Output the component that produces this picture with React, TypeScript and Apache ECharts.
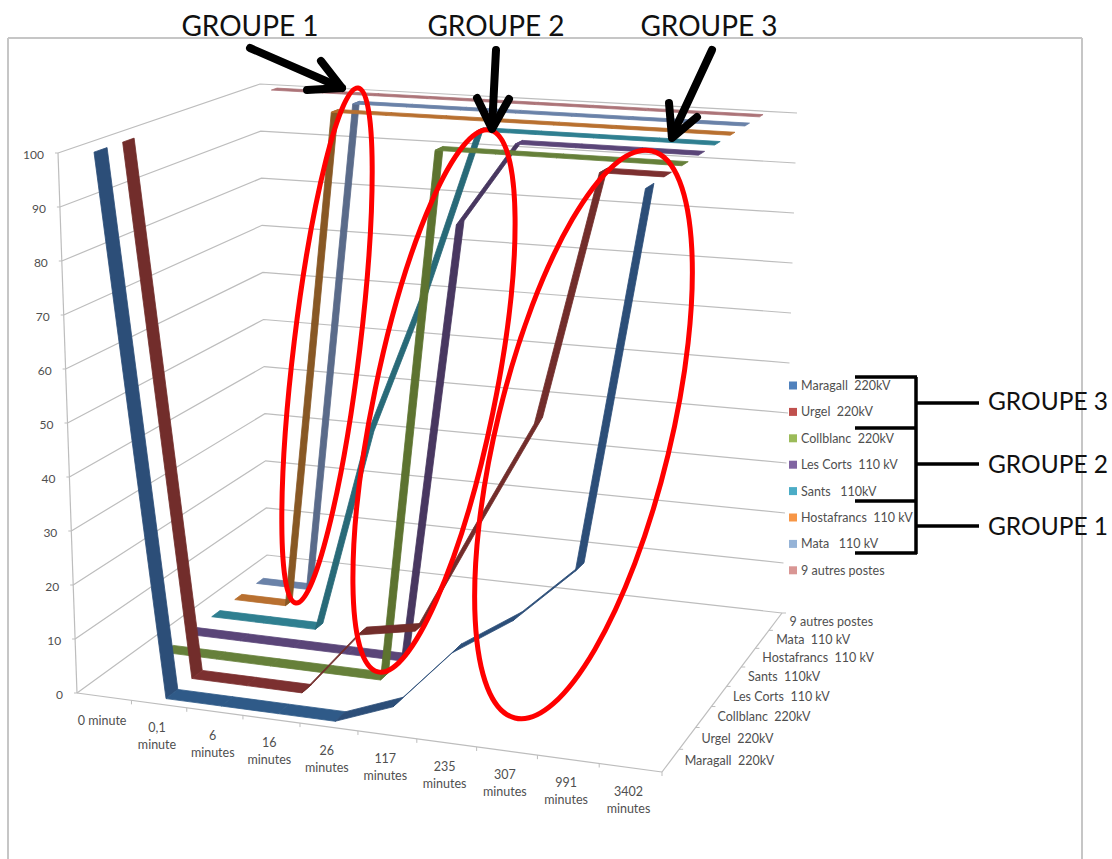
import React, { useEffect, useRef } from "react";
import * as echarts from "echarts";

const minuteLabels = ["0 minute", "0,1\nminute", "6\nminutes", "16\nminutes", "26\nminutes", "117\nminutes", "235\nminutes", "307\nminutes", "991\nminutes", "3402\nminutes"];
const valueTicks = [0, 10, 20, 30, 40, 50, 60, 70, 80, 90, 100];

const legendNames = ["Maragall  220kV", "Urgel  220kV", "Collblanc  220kV", "Les Corts  110 kV", "Sants   110kV", "Hostafrancs  110 kV", "Mata   110 kV", "9 autres postes"];
const depthNames = ["Maragall  220kV", "Urgel  220kV", "Collblanc  220kV", "Les Corts  110 kV", "Sants  110kV", "Hostafrancs  110 kV", "Mata  110 kV", "9 autres postes"];

const maragall = [100, 0, 0, 0, 0, 4, 15, 22, 32, 100];
const urgel = [100, 0, 0, 0, 12, 14, 34, 54, 100, 100];
const collblanc = [0, 0, 0, 0, 0, 100, 100, 100, 100, 100];
const lesCorts = [0, 0, 0, 0, 0, 84, 100, 100, 100, 100];
const sants = [0, 0, 0, 39, 67, 100, 100, 100, 100, 100];
const hostafrancs = [0, 0, 100, 100, 100, 100, 100, 100, 100, 100];
const mata = [0, 0, 100, 100, 100, 100, 100, 100, 100, 100];
const autres = [100, 100, 100, 100, 100, 100, 100, 100, 100, 100];
const seriesValues = [maragall, urgel, collblanc, lesCorts, sants, hostafrancs, mata, autres];

const legendColors = ["#4F81BD", "#C0504D", "#9BBB59", "#8064A2", "#4BACC6", "#F79646", "#95B3D7", "#D99694"];
const flatColors = ["#2F5A88", "#7C3030", "#66803A", "#5A4578", "#2F7F90", "#B87030", "#6A82A8", "#AC7478"];
const steepColors = ["#2C4E78", "#722D2B", "#5D7330", "#483760", "#286A78", "#885824", "#5A6B8A", "#AC7478"];
const ribbonDepth = [0.46, 0.42, 0.38, 0.38, 0.36, 0.32, 0.32, 0.26];

const FONT = "Lato, 'Open Sans', sans-serif";
const TEXT = "#4f4f4f";
const GRID = "#bdbdbd";

type P = [number, number];
const floorQuad: P[] = [[77, 693], [662, 772], [782, 613], [267, 555]];
const topQuad: P[] = [[58, 153], [674, 194], [797, 113], [260, 84]];

function quadMap(q: P[]) {
  const [[x0, y0], [x1, y1], [x2, y2], [x3, y3]] = q;
  const dx1 = x1 - x2, dx2 = x3 - x2, sx = x0 - x1 + x2 - x3;
  const dy1 = y1 - y2, dy2 = y3 - y2, sy = y0 - y1 + y2 - y3;
  const den = dx1 * dy2 - dx2 * dy1;
  const g = (sx * dy2 - dx2 * sy) / den;
  const h = (dx1 * sy - sx * dy1) / den;
  const a = x1 - x0 + g * x1, b = x3 - x0 + h * x3;
  const d = y1 - y0 + g * y1, e = y3 - y0 + h * y3;
  return (u: number, v: number): P => {
    const w = g * u + h * v + 1;
    return [(a * u + b * v + x0) / w, (d * u + e * v + y0) / w];
  };
}
const floorMap = quadMap(floorQuad);
const topMap = quadMap(topQuad);
function project(u: number, v: number, h: number): P {
  const f = floorMap(u, v), t = topMap(u, v);
  return [f[0] + (t[0] - f[0]) * h, f[1] + (t[1] - f[1]) * h];
}

const GRID_BOX = { left: 100, top: 100, width: 800, height: 500 };
const toUH = (p: number[]) => [
  (p[0] - GRID_BOX.left) / GRID_BOX.width,
  (GRID_BOX.top + GRID_BOX.height - p[1]) / GRID_BOX.height,
];

const ellipses = [
  { top: [358, 88], bottom: [296, 603], minor: 33 },
  { top: [490, 130], bottom: [378, 672], minor: 60 },
  { top: [652, 151], bottom: [515, 718], minor: 87 },
];
const arrows = [
  { shaft: [[250, 48], [342, 88]], barbs: [[307, 90], [342, 88], [321, 61]] },
  { shaft: [[496, 50], [492, 128]], barbs: [[477, 98], [492, 129], [509, 99]] },
  { shaft: [[712, 50], [672, 136]], barbs: [[669, 103], [672, 138], [697, 117]] },
];
const brackets = [
  [[855, 377], [917, 377]], [[855, 428], [917, 428]], [[855, 501], [917, 501]], [[855, 553], [917, 553]],
  [[916, 377], [916, 554]], [[917, 403], [979, 403]], [[917, 464], [979, 464]], [[917, 526], [979, 526]],
];
const groupTitles = [
  { text: "GROUPE 1", x: 250, y: 25, size: 28 }, { text: "GROUPE 2", x: 496, y: 25, size: 28 }, { text: "GROUPE 3", x: 709, y: 25, size: 28 },
  { text: "GROUPE 3", x: 1048, y: 400, size: 24.5 }, { text: "GROUPE 2", x: 1048, y: 463, size: 24.5 }, { text: "GROUPE 1", x: 1048, y: 525, size: 24.5 },
];

function buildOption() {
  const ribbonSeries = seriesValues.map((vals, s) => ({ vals, s })).reverse().map(({ vals, s }) => ({
    type: "custom",
    name: legendNames[s],
    coordinateSystem: "cartesian2d",
    clip: false,
    z: 3,
    itemStyle: { color: legendColors[s] },
    encode: { x: 0, y: 1 },
    data: vals.map((v, i) => [i, v]),
    renderItem: (params: any, api: any) => {
      const i = params.dataIndex;
      if (i >= vals.length - 1) return null;
      const [u0, h0] = toUH(api.coord([i, vals[i]]));
      const [u1, h1] = toUH(api.coord([i + 1, vals[i + 1]]));
      const v = (s + 0.5) / seriesValues.length;
      const d = ribbonDepth[s] / seriesValues.length / 2;
      const color = vals[i] === vals[i + 1] ? flatColors[s] : steepColors[s];
      return {
        type: "polygon",
        shape: { points: [project(u0, v - d, h0), project(u0, v + d, h0), project(u1, v + d, h1), project(u1, v - d, h1)] },
        style: { fill: color, stroke: color, lineWidth: 0.8 },
      };
    },
  }));

  const wallSeries = {
    type: "custom",
    coordinateSystem: "cartesian2d",
    clip: false,
    z: 1,
    encode: { x: 0, y: 1 },
    data: valueTicks.map((t) => [0, t]),
    renderItem: (params: any, api: any) => {
      const t = valueTicks[params.dataIndex];
      const [, h] = toUH(api.coord([0, t]));
      const a = project(0, 0, h), b = project(0, 1, h), c = project(1, 1, h);
      return {
        type: "group",
        children: [
          { type: "polyline", shape: { points: [a, b, c] }, style: { stroke: GRID, lineWidth: 1.2, fill: "none" } },
          { type: "line", shape: { x1: a[0] - 3, y1: a[1], x2: a[0], y2: a[1] }, style: { stroke: GRID, lineWidth: 1 } },
          { type: "text", style: { x: a[0] - 14, y: a[1] + 1, text: String(t), fill: TEXT, font: `12px ${FONT}`, align: "right", verticalAlign: "middle" } },
        ],
      };
    },
  };

  const categorySeries = {
    type: "custom",
    coordinateSystem: "cartesian2d",
    clip: false,
    z: 1,
    encode: { x: 0, y: 1 },
    data: minuteLabels.map((_, i) => [i, 0]),
    renderItem: (params: any, api: any) => {
      const i = params.dataIndex;
      const [u] = toUH(api.coord([i, 0]));
      const edge = project(u + 0.05, 0, 0);
      const mid = project(u, 0, 0);
      return {
        type: "group",
        children: [
          { type: "line", shape: { x1: edge[0], y1: edge[1], x2: edge[0], y2: edge[1] + 4 }, style: { stroke: GRID, lineWidth: 1 } },
          { type: "text", style: { x: mid[0] - 2, y: mid[1] + 15, text: minuteLabels[i], fill: TEXT, font: `12.5px ${FONT}`, lineHeight: 17, align: "center", verticalAlign: "top" } },
        ],
      };
    },
  };

  const depthSeries = {
    type: "custom",
    coordinateSystem: "cartesian2d",
    clip: false,
    z: 1,
    encode: { x: 0, y: 1 },
    data: depthNames.map(() => [9, 0]),
    renderItem: (params: any) => {
      const i = params.dataIndex;
      const v = (i + 0.5) / depthNames.length;
      const mid = project(1, v, 0);
      const edge = project(1, (i + 1) / depthNames.length, 0);
      return {
        type: "group",
        children: [
          { type: "line", shape: { x1: edge[0], y1: edge[1], x2: edge[0] + 4, y2: edge[1] }, style: { stroke: GRID, lineWidth: 1 } },
          { type: "text", style: { x: mid[0] + 14, y: mid[1], text: depthNames[i], fill: TEXT, font: `12.5px ${FONT}`, align: "left", verticalAlign: "middle" } },
        ],
      };
    },
  };

  const frameSeries = {
    type: "custom",
    coordinateSystem: "cartesian2d",
    clip: false,
    z: 1,
    encode: { x: 0, y: 1 },
    data: [[0, 0]],
    renderItem: () => {
      const seg = (a: P, b: P) => ({ type: "line", shape: { x1: a[0], y1: a[1], x2: b[0], y2: b[1] }, style: { stroke: GRID, lineWidth: 1.2 } });
      return {
        type: "group",
        children: [
          seg(project(0, 0, 0), project(0, 0, 1)),
          seg(project(0, 0, 0), project(1, 0, 0)),
          seg(project(1, 0, 0), project(1, 1, 0)),
        ],
      };
    },
  };

  const lineEl = (p: number[][], width: number) => ({
    type: "polyline",
    z: 100,
    shape: { points: p },
    style: { stroke: "#000", lineWidth: width, fill: "none", lineCap: "round", lineJoin: "round" },
  });

  const graphicElements: any[] = [
    { type: "line", z: 0, shape: { x1: 8, y1: 38, x2: 1082, y2: 38 }, style: { stroke: "#c6c6c6", lineWidth: 2 } },
    { type: "line", z: 0, shape: { x1: 8, y1: 38, x2: 8, y2: 859 }, style: { stroke: "#c6c6c6", lineWidth: 2 } },
    { type: "line", z: 0, shape: { x1: 1082, y1: 38, x2: 1082, y2: 859 }, style: { stroke: "#c6c6c6", lineWidth: 2 } },
    ...ellipses.map((e) => {
      const dx = e.top[0] - e.bottom[0], dy = e.bottom[1] - e.top[1];
      return {
        type: "ellipse",
        z: 90,
        x: (e.top[0] + e.bottom[0]) / 2,
        y: (e.top[1] + e.bottom[1]) / 2,
        rotation: -Math.atan2(dx, dy),
        shape: { cx: 0, cy: 0, rx: e.minor, ry: Math.hypot(dx, dy) / 2 },
        style: { fill: "none", stroke: "#FF0000", lineWidth: 5 },
      };
    }),
    ...arrows.flatMap((a) => [lineEl(a.shaft, 8), lineEl(a.barbs, 8)]),
    ...brackets.map((b) => ({ ...lineEl(b, 3.5), style: { stroke: "#000", lineWidth: 3.5, fill: "none" } })),
    ...groupTitles.map((t) => ({
      type: "text",
      z: 100,
      style: { x: t.x, y: t.y, text: t.text, fill: "#111", font: `${t.size}px ${FONT}`, align: "center", verticalAlign: "middle" },
    })),
  ];

  return {
    animation: false,
    backgroundColor: "#fff",
    grid: { ...GRID_BOX, show: false },
    xAxis: { type: "category", data: minuteLabels, show: false },
    yAxis: { type: "value", min: 0, max: 100, show: false },
    legend: {
      orient: "vertical",
      left: 789,
      top: 379,
      itemWidth: 8,
      itemHeight: 8,
      itemGap: 13.4,
      icon: "rect",
      selectedMode: false,
      data: legendNames,
      textStyle: { fontFamily: FONT, fontSize: 12.5, color: TEXT, padding: [0, 0, 0, -1] },
      padding: 0,
    },
    graphic: { elements: graphicElements },
    series: [wallSeries, frameSeries, categorySeries, depthSeries, ...ribbonSeries],
  };
}

export default function App() {
  const ref = useRef<HTMLDivElement>(null);
  useEffect(() => {
    document.body.style.margin = "0";
    const chart = echarts.init(ref.current!, undefined, { renderer: "svg" });
    chart.setOption(buildOption() as any);
    return () => chart.dispose();
  }, []);
  return <div ref={ref} style={{ width: 1112, height: 859 }} />;
}
